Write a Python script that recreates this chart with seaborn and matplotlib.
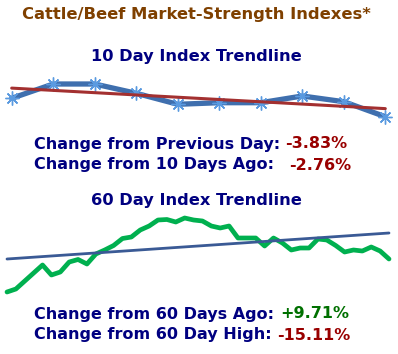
import numpy as np
import pandas as pd
import matplotlib
matplotlib.use("Agg")
import matplotlib.pyplot as plt
import seaborn as sns

# ---- data ----
title = "Cattle/Beef Market-Strength Indexes*"
title_10 = "10 Day Index Trendline"
title_60 = "60 Day Index Trendline"

days_10 = list(range(10))
index_10 = [51.7, 66.0, 66.0, 56.7, 45.7, 47.3, 47.3, 54.0, 48.3, 33.3]

days_60 = list(range(44))
index_60 = [8, 11, 19, 27, 35, 25, 28, 38, 40.5, 36,
            46, 50, 54.5, 61.5, 63, 70, 74, 80, 80.5, 78,
            82, 80, 79, 74, 72, 74, 62, 62, 62, 54,
            62, 57, 50, 52, 52, 61, 60, 54.5, 48, 50,
            49, 53, 49, 41]
trend_60 = [41, 67]  # start / end of 60-day trendline

labels_10 = ["Change from Previous Day:", "Change from 10 Days Ago:"]
values_10 = ["-3.83%", "-2.76%"]
labels_60 = ["Change from 60 Days Ago:", "Change from 60 Day High:"]
values_60 = ["+9.71%", "-15.11%"]

# ---- style ----
sns.set_style("white")
plt.rcParams['font.family'] = ['DejaVu Sans']

W, H = 398, 354
fig = plt.figure(figsize=(W / 100, H / 100), dpi=100)

NAVY = "#000080"
BROWN = "#7f4000"
DRED = "#990000"
DGREEN = "#007000"
FS = 11.5

def fx(px):
    return px / W

def fy(py):
    return 1 - py / H

fig.text(fx(196), fy(14), title, ha="center", va="center",
         fontsize=11.8, fontweight="bold", color=BROWN)
fig.text(fx(196), fy(56), title_10, ha="center", va="center",
         fontsize=11.7, fontweight="bold", color=NAVY)
fig.text(fx(196), fy(200), title_60, ha="center", va="center",
         fontsize=11.7, fontweight="bold", color=NAVY)

# ---- 10 day chart ----
ax1 = fig.add_axes([0, fy(125), 1, 65 / H])
df10 = pd.DataFrame({"day": days_10, "index": index_10})
sns.lineplot(data=df10, x="day", y="index", ax=ax1, color="#3f6fae",
             linewidth=3.8, marker=(8, 2, 0), markersize=10,
             markeredgecolor="#5a9ae0", markerfacecolor="#5a9ae0",
             markeredgewidth=1.0)
coef = np.polyfit(days_10, index_10, 1)
trend10 = pd.DataFrame({"day": [days_10[0], days_10[-1]],
                        "index": np.polyval(coef, [days_10[0], days_10[-1]])})
sns.lineplot(data=trend10, x="day", y="index", ax=ax1, color="#a33030",
             linewidth=2.2)
span = (385.3 - 11.7) / 9
ax1.set_xlim(-11.7 / span, 9 + (W - 385.3) / span)
ax1.set_ylim(25, 90)
ax1.set_axis_off()

# ---- 60 day chart ----
ax2 = fig.add_axes([0, fy(300), 1, 100 / H])
df60 = pd.DataFrame({"day": days_60, "index": index_60})
sns.lineplot(data=df60, x="day", y="index", ax=ax2, color="#00b04f",
             linewidth=3.4)
tr60 = pd.DataFrame({"day": [days_60[0], days_60[-1]], "index": trend_60})
sns.lineplot(data=tr60, x="day", y="index", ax=ax2, color="#3a5a95",
             linewidth=2.0)
span2 = (389 - 7) / 43
ax2.set_xlim(-7 / span2, 43 + (W - 389) / span2)
ax2.set_ylim(0, 100)
ax2.set_axis_off()

# ---- change texts ----
rows = [
    (144, labels_10[0], values_10[0], DRED, 5),
    (165, labels_10[1], values_10[1], DRED, 15),
    (314, labels_60[0], values_60[0], DGREEN, 6),
    (335, labels_60[1], values_60[1], DRED, 5),
]
fig.canvas.draw()
renderer = fig.canvas.get_renderer()
for py, lab, val, col, gap in rows:
    t = fig.text(fx(34), fy(py), lab, ha="left", va="center", fontsize=FS,
                 fontweight="bold", color=NAVY)
    bb = t.get_window_extent(renderer=renderer)
    fig.text((bb.x1 + gap) / W, fy(py), val, ha="left", va="center",
             fontsize=FS, fontweight="bold", color=col)

fig.savefig("out.png", dpi=100)
